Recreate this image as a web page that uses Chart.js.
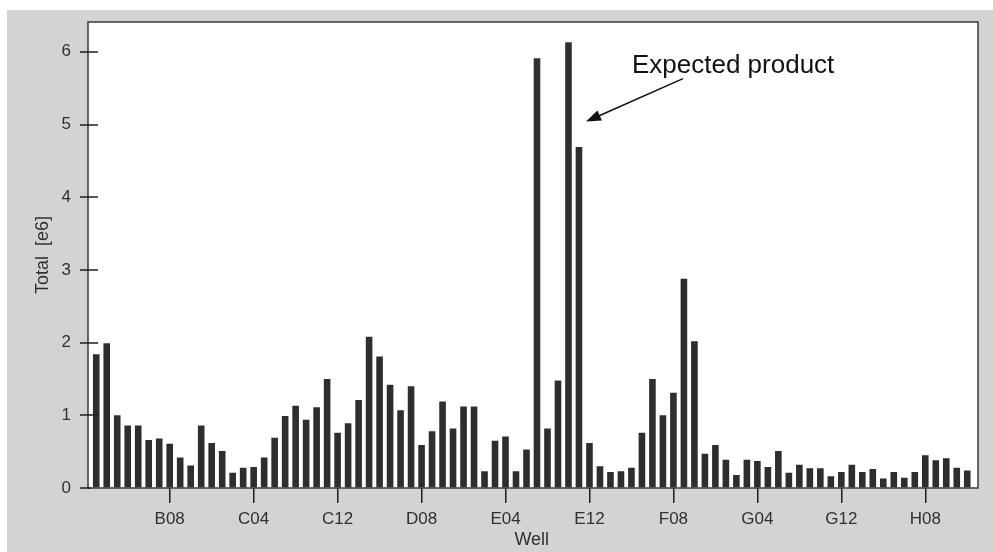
<!DOCTYPE html>
<html>
<head>
<meta charset="utf-8">
<script src="https://cdn.jsdelivr.net/npm/chart.js@4"></script>
<style>
	body { margin: 0; background: #ffffff; }
	#bg { position: absolute; left: 7px; top: 10px; right: 0; bottom: 0; background: #d3d3d3; }
	#wrap { position: absolute; left: 0; top: 0; width: 993px; height: 552px; }
</style>
</head>
<body>
<div id="bg"></div>
<div id="wrap"><canvas id="myChart" width="993" height="552"></canvas></div>
<script>
const rows = ['B', 'C', 'D', 'E', 'F', 'G', 'H'];
const cols = ['01', '02', '03', '04', '05', '06', '07', '08', '09', '10', '11', '12'];
const tickWells = ['B08', 'C04', 'C12', 'D08', 'E04', 'E12', 'F08', 'G04', 'G12', 'H08'];

// Total [e6] per well, one list per plate row
const rowB = [1.84, 1.99, 1.00, 0.86, 0.86, 0.66, 0.68, 0.61, 0.42, 0.31, 0.86, 0.62];
const rowC = [0.51, 0.21, 0.28, 0.29, 0.42, 0.69, 0.99, 1.13, 0.94, 1.11, 1.50, 0.76];
const rowD = [0.89, 1.21, 2.08, 1.81, 1.42, 1.07, 1.40, 0.59, 0.78, 1.19, 0.82, 1.12];
const rowE = [1.12, 0.23, 0.65, 0.71, 0.23, 0.53, 5.91, 0.82, 1.48, 6.13, 4.69, 0.62];
const rowF = [0.30, 0.22, 0.23, 0.28, 0.76, 1.50, 1.00, 1.31, 2.88, 2.02, 0.47, 0.59];
const rowG = [0.39, 0.18, 0.39, 0.37, 0.29, 0.51, 0.21, 0.32, 0.27, 0.27, 0.16, 0.22];
const rowH = [0.32, 0.22, 0.26, 0.13, 0.22, 0.14, 0.22, 0.45, 0.38, 0.41, 0.28, 0.24];

const noteText = 'Expected product';
const noteWell = 'E11';
const noteValue = 5.04;

var wells = [];
rows.forEach((r) => {
	cols.forEach((c) => wells.push(r + c));
});
var totals = [].concat(rowB, rowC, rowD, rowE, rowF, rowG, rowH);

const FONT = '"Liberation Sans", Arial, sans-serif';
const INK = '#303030';
const TICK = '#1e1e1e';

// white plot box, frame, y tick marks and the arrow note
const framePlugin = {
	id: 'frame',
	beforeDraw(chart) {
		var a = chart.chartArea;
		var c = chart.ctx;
		c.save();
		c.fillStyle = '#ffffff';
		c.fillRect(a.left - 3, a.top, a.right - a.left + 8.5, a.bottom - a.top);
		c.restore();
	},
	afterDraw(chart) {
		var a = chart.chartArea;
		var c = chart.ctx;
		var y = chart.scales.y;
		var x = chart.scales.x;
		c.save();
		c.strokeStyle = '#3a3a3a';
		c.lineWidth = 1.5;
		c.strokeRect(a.left - 3, a.top, a.right - a.left + 8.5, a.bottom - a.top);

		// y ticks cross the frame: 11px outside, 7px inside
		c.lineWidth = 1.5;
		c.strokeStyle = TICK;
		y.ticks.forEach((t) => {
			var py = Math.round(y.getPixelForValue(t.value));
			c.beginPath();
			c.moveTo(a.left - 11, py);
			c.lineTo(t.value === 0 ? a.left : a.left + 7, py);
			c.stroke();
		});

		// arrow pointing at the expected product
		var tipX = x.getPixelForValue(wells.indexOf(noteWell)) + 7;
		var tipY = y.getPixelForValue(noteValue);
		var tailX = tipX + 97;
		var tailY = tipY - 43;
		var ang = Math.atan2(tipY - tailY, tipX - tailX);
		c.strokeStyle = '#111111';
		c.lineWidth = 1.5;
		c.beginPath();
		c.moveTo(tailX, tailY);
		c.lineTo(tipX - 12 * Math.cos(ang), tipY - 12 * Math.sin(ang));
		c.stroke();
		c.fillStyle = '#111111';
		c.beginPath();
		c.moveTo(tipX, tipY);
		c.lineTo(tipX - 15 * Math.cos(ang) + 5.5 * Math.sin(ang), tipY - 15 * Math.sin(ang) - 5.5 * Math.cos(ang));
		c.lineTo(tipX - 15 * Math.cos(ang) - 5.5 * Math.sin(ang), tipY - 15 * Math.sin(ang) + 5.5 * Math.cos(ang));
		c.closePath();
		c.fill();

		c.font = '26px ' + FONT;
		c.textAlign = 'left';
		c.textBaseline = 'alphabetic';
		c.fillText(noteText, tipX + 46, tipY - 49);
		c.restore();
	}
};

const ctx = document.getElementById('myChart');
var jsChart = new Chart(ctx, {
	type: 'bar',
	data: {
		labels: wells,
		datasets: [{
			label: 'Total',
			data: totals,
			backgroundColor: '#2e2e2e',
			borderWidth: 0,
			categoryPercentage: 1,
			barPercentage: 0.63
		}]
	},
	options: {
		responsive: false,
		animation: false,
		devicePixelRatio: 1,
		layout: {
			padding: { left: 0, right: 20.5, top: 22, bottom: 0 }
		},
		plugins: {
			legend: { display: false },
			tooltip: { enabled: false }
		},
		scales: {
			x: {
				offset: true,
				border: { display: false },
				grid: {
					offset: false,
					drawOnChartArea: false,
					tickLength: 15,
					lineWidth: 1.5,
					color: (c) => tickWells.includes(wells[c.index]) ? TICK : 'rgba(0,0,0,0)'
				},
				ticks: {
					autoSkip: false,
					maxRotation: 0,
					padding: 6,
					color: INK,
					font: { family: FONT, size: 17 },
					callback: (val, i) => tickWells.includes(wells[i]) ? wells[i] : ''
				},
				title: {
					display: true,
					text: 'Well',
					color: INK,
					font: { family: FONT, size: 18 },
					padding: { top: 0, bottom: 1 }
				},
				afterFit: (s) => { s.height = 64; }
			},
			y: {
				min: 0,
				max: 6.41,
				border: { display: false },
				grid: {
					drawOnChartArea: false,
					tickLength: 11,
					color: 'rgba(0,0,0,0)'
				},
				ticks: {
					stepSize: 1,
					includeBounds: false,
					padding: 9,
					color: INK,
					font: { family: FONT, size: 17 }
				},
				title: {
					display: true,
					text: 'Total  [e6]',
					color: INK,
					font: { family: FONT, size: 18 },
					padding: { top: 32, bottom: 0 }
				},
				afterFit: (s) => { s.width = 91; }
			}
		}
	},
	plugins: [framePlugin]
});
</script>
</body>
</html>
